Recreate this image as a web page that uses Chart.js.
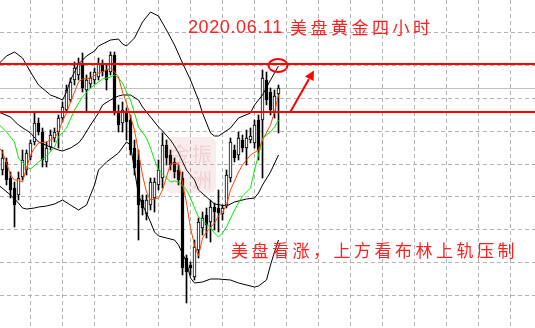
<!DOCTYPE html>
<html><head><meta charset="utf-8">
<script src="https://cdn.jsdelivr.net/npm/chart.js@4/dist/chart.umd.min.js"></script>
<style>html,body{margin:0;padding:0;background:#fff;overflow:hidden}canvas{display:block}</style>
</head><body>
<canvas id="c" width="535" height="328"></canvas>
<script>
// Candle values (price units: height above chart bottom)
const open  = [158,166,150,140,133,151,158,171,186,205,196,166,181,190,196,210,218,228,248,253,265,238,244,248,251,263,258,256,273,216,205,216,208,180,168,128,114,123,130,143,150,183,173,166,158,150,70,63,51,78,100,113,106,121,120,114,123,150,178,173,188,180,188,185,208,208,248,236,216,234];
const high  = [178,170,156,146,156,178,178,188,215,210,200,186,198,200,213,226,243,250,266,270,275,253,256,260,270,268,263,276,276,223,226,220,213,188,178,133,133,150,150,168,195,188,178,170,163,156,73,66,88,110,116,120,128,125,138,123,158,190,183,196,193,198,200,208,213,258,256,240,238,243];
const low   = [153,143,130,101,128,148,153,168,183,193,161,161,178,186,180,206,216,226,243,248,236,216,240,244,248,252,238,253,213,196,196,188,173,153,88,113,108,118,116,138,140,163,158,150,143,53,25,53,48,70,93,90,86,98,96,108,120,146,166,168,176,163,185,180,168,150,223,213,210,195];
const close = [170,148,138,123,150,168,175,185,205,196,168,180,193,196,210,221,238,246,260,264,240,248,250,256,264,256,248,273,215,203,218,206,178,160,123,120,128,146,146,158,183,170,163,156,148,60,56,60,81,106,110,103,121,116,115,120,153,186,170,190,180,190,192,203,178,250,228,218,232,240];

// Indicator lines: [bar number, value]
const upperBand = [[0,264],[2,272],[4,276],[6,270],[8,256],[10,243],[13,233],[15,230],[16,228],[17,236],[18,248],[20,264],[22,272],[24,277],[25,282],[28,288],[30,289],[31,284],[32,282],[34,290],[36,306],[38,316],[40,312],[42,298],[44,283],[46,265],[48,248],[50,228],[51,215],[53,195],[54,192],[55,192],[58,200],[60,210],[63,215],[64,223],[66,233],[68,248],[70,262]];
const middleBand = [[0,216],[3,211],[5,203],[8,195],[10,186],[13,181],[15,178],[16,177],[18,180],[20,185],[21,190],[23,203],[25,215],[26,223],[28,228],[30,232],[31,233],[33,233],[35,228],[36,221],[38,211],[40,201],[41,197],[43,188],[44,182],[45,175],[47,158],[49,148],[50,138],[52,131],[54,124],[57,122],[59,126],[62,129],[64,130],[65,135],[66,143],[68,156],[70,173]];
const lowerBand = [[0,143],[3,133],[5,125],[6,120],[7,119],[9,120],[10,121],[12,122],[14,124],[16,128],[18,123],[20,118],[22,123],[24,143],[25,158],[27,166],[30,175],[32,186],[33,183],[34,158],[35,133],[36,123],[37,115],[38,106],[39,96],[40,92],[42,90],[44,88],[45,83],[47,66],[48,50],[49,45],[51,46],[53,49],[55,49],[58,48],[60,45],[64,41],[65,42],[67,48],[68,63],[69,76],[70,88]];
const fastMA = [[0,181],[1,176],[2,165],[3,153],[4,148],[5,148],[6,146],[7,160],[8,173],[9,180],[10,185],[12,186],[14,190],[15,196],[16,207],[17,215],[18,226],[19,236],[20,246],[21,249],[23,250],[25,255],[27,258],[28,260],[29,256],[30,251],[31,236],[32,225],[34,198],[35,176],[36,153],[37,136],[38,128],[40,130],[41,138],[42,151],[43,164],[45,165],[46,145],[47,125],[48,100],[49,83],[50,72],[51,90],[52,96],[54,105],[55,112],[56,116],[57,123],[58,138],[60,156],[61,163],[62,168],[63,173],[65,178],[66,188],[68,203],[69,216],[70,233]];
const slowMA = [[0,204],[2,196],[4,186],[5,170],[7,161],[8,159],[10,166],[12,172],[14,181],[15,191],[17,200],[19,218],[21,231],[23,240],[25,246],[26,249],[28,251],[29,253],[30,250],[31,245],[32,236],[33,228],[34,215],[35,201],[37,190],[38,180],[39,168],[40,158],[42,150],[43,146],[44,147],[45,146],[47,138],[48,130],[49,120],[50,111],[52,104],[53,100],[54,95],[55,91],[56,95],[57,101],[59,118],[60,125],[61,132],[63,140],[64,158],[65,173],[66,190],[68,196],[69,201],[70,208]];

const redLevels = [264, 216];
const bidLevel = 239.5;
const titleDate = '2020.06.11';
const titleCn = '美盘黄金四小时';
const noteText = '美盘看涨，上方看布林上轨压制';

const X_MIN = 0.375, X_MAX = 134.125;
const pts = arr => arr.map(([x, y]) => ({x, y}));
const lineDs = (data, color, order) => ({type:'line', data: pts(data), borderColor: color, borderWidth: 1, pointRadius: 0, tension: 0, order});
const levelDs = (v, color, w, order) => ({type:'line', data: [{x:X_MIN,y:v},{x:X_MAX,y:v}], borderColor: color, borderWidth: w, pointRadius: 0, order});

const annot = {
  id: 'annot',
  afterDatasetsDraw(chart) {
    const ctx = chart.ctx;
    ctx.save();
    // watermark stamp
    ctx.fillStyle = 'rgba(205,110,110,0.13)';
    ctx.beginPath();
    ctx.roundRect(166, 137, 50, 56, 6);
    ctx.fill();
    ctx.fillStyle = 'rgba(190,70,70,0.16)';
    ctx.font = '20px "Noto Sans CJK SC"';
    ctx.fillText('振', 192, 162);
    ctx.fillText('洲', 192, 188);
    ctx.fillText('金', 170, 162);
    // ellipse
    ctx.strokeStyle = '#ff0000';
    ctx.lineWidth = 2;
    ctx.beginPath();
    ctx.ellipse(278, 65.5, 9.5, 6.5, 0, 0, Math.PI * 2);
    ctx.stroke();
    // arrow
    ctx.beginPath();
    ctx.moveTo(290, 112.5);
    ctx.lineTo(309, 79);
    ctx.stroke();
    ctx.fillStyle = '#ff0000';
    ctx.beginPath();
    ctx.moveTo(314, 70.5);
    ctx.lineTo(313.5, 81);
    ctx.lineTo(305, 76.5);
    ctx.closePath();
    ctx.fill();
    // texts
    ctx.fillStyle = '#ff2020';
    ctx.font = '18px "Liberation Sans"';
    ctx.letterSpacing = '0.6px';
    ctx.fillText(titleDate, 188, 33);
    ctx.font = '17px "Noto Sans CJK SC"';
    ctx.letterSpacing = '3.5px';
    ctx.fillText(titleCn, 290, 34);
    ctx.fillText(noteText, 231, 257);
    ctx.restore();
  }
};

new Chart(document.getElementById('c'), {
  type: 'bar',
  data: {
    datasets: [
      levelDs(bidLevel, '#c0c0c0', 1, 9),
      {type:'bar', data: close.map((c, i) => ({x: i + 1, y: [low[i], high[i]]})), backgroundColor:'#000', borderWidth:0, barThickness:1, grouped:false, order:8},
      {type:'bar', data: close.map((c, i) => ({x: i + 1, y: [open[i], c]})),
       backgroundColor: close.map((c, i) => c >= open[i] ? '#ffffff' : '#000000'),
       borderColor:'#000', borderWidth:1, borderSkipped:false, barThickness:3, grouped:false, order:7},
      lineDs(upperBand, '#000', 4),
      lineDs(middleBand, '#000', 4),
      lineDs(lowerBand, '#000', 4),
      lineDs(slowMA, '#00ee00', 3),
      lineDs(fastMA, '#ff4500', 2),
      levelDs(redLevels[0], '#ff0000', 2, 1),
      levelDs(redLevels[1], '#ff0000', 2, 1)
    ]
  },
  options: {
    responsive: false,
    animation: false,
    devicePixelRatio: 1,
    layout: {padding: 0},
    plugins: {legend:{display:false}, tooltip:{enabled:false}, title:{display:false}},
    scales: {
      x: {type:'linear', min:X_MIN, max:X_MAX, offset:false,
          ticks:{display:false, stepSize:8, includeBounds:false},
          grid:{color:'#b4b4b4', lineWidth:1, drawTicks:false, offset:false},
          border:{display:false, dash:[4,3]},
          afterFit: s => { s.height = 0; }},
      y: {type:'linear', min:0, max:328, beginAtZero:false,
          ticks:{display:false, stepSize:32.8, includeBounds:false},
          grid:{color: c => (c.tick && (c.tick.value < 1 || c.tick.value > 327)) ? 'rgba(0,0,0,0)' : '#b4b4b4', lineWidth:1, drawTicks:false},
          border:{display:false, dash:[4,3]},
          afterFit: s => { s.width = 0; }}
    }
  },
  plugins: [annot]
});
</script>
</body></html>
